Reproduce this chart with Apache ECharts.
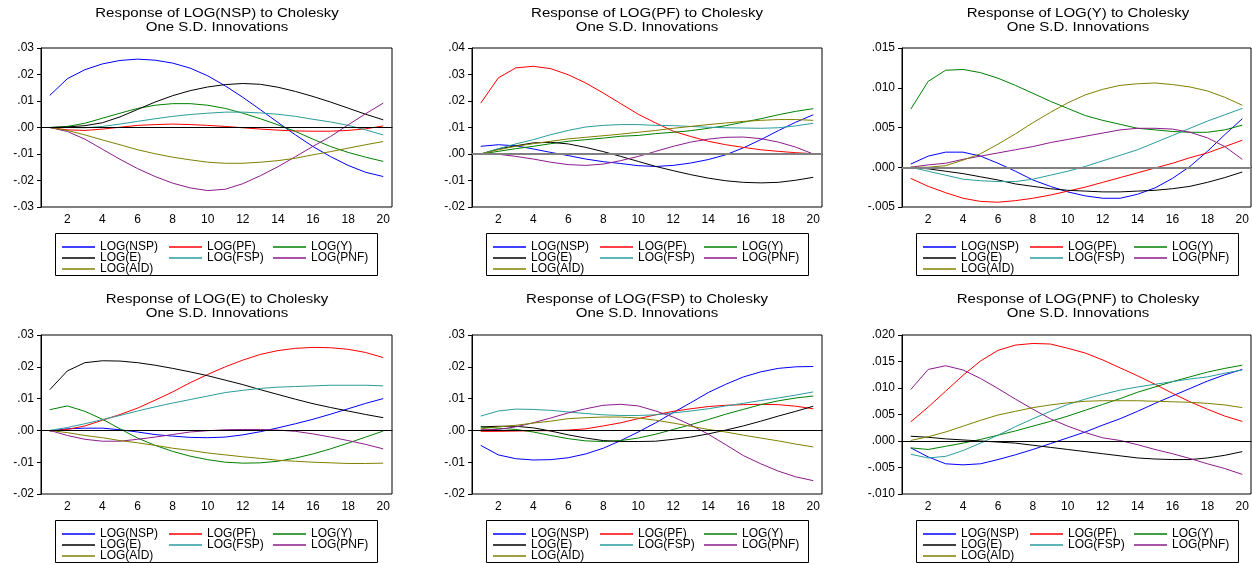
<!DOCTYPE html>
<html>
<head>
<meta charset="utf-8">
<script src="https://cdn.jsdelivr.net/npm/echarts@6/dist/echarts.min.js"></script>
<style>
html, body { margin: 0; padding: 0; background: #fff; }
#main { width: 1252px; height: 563px; }
</style>
</head>
<body>
<div id="main"></div>
<script>
var periods = ['1','2','3','4','5','6','7','8','9','10','11','12','13','14','15','16','17','18','19','20'];
var shockNames = ['LOG(NSP)', 'LOG(PF)', 'LOG(Y)', 'LOG(E)', 'LOG(FSP)', 'LOG(PNF)', 'LOG(AID)'];
var responseNames = ['LOG(NSP)', 'LOG(PF)', 'LOG(Y)', 'LOG(E)', 'LOG(FSP)', 'LOG(PNF)'];
var yMin = [-0.03, -0.02, -0.005, -0.02, -0.02, -0.01];
var yMax = [0.03, 0.04, 0.015, 0.03, 0.03, 0.02];
var yStep = [0.01, 0.01, 0.005, 0.01, 0.01, 0.005];

// response of LOG(NSP)
var nsp_nsp = [0.0121,0.0184,0.0218,0.0240,0.0253,0.0258,0.0254,0.0243,0.0224,0.0195,0.0157,0.0114,0.0067,0.0019,-0.0028,-0.0072,-0.0110,-0.0143,-0.0169,-0.0185];
var nsp_pf  = [0,-0.0009,-0.0011,-0.0006,0.0001,0.0008,0.0011,0.0013,0.0011,0.0008,0.0004,-0.0001,-0.0006,-0.0010,-0.0013,-0.0014,-0.0014,-0.0011,-0.0005,0.0006];
var nsp_y   = [0,0.0004,0.0016,0.0035,0.0054,0.0072,0.0084,0.0090,0.0090,0.0084,0.0072,0.0054,0.0033,0.0010,-0.0015,-0.0044,-0.0072,-0.0094,-0.0112,-0.0128];
var nsp_e   = [0,0.0002,0.0007,0.0018,0.0040,0.0068,0.0096,0.0120,0.0139,0.0153,0.0162,0.0166,0.0163,0.0152,0.0136,0.0117,0.0096,0.0073,0.0050,0.0029];
var nsp_fsp = [0,0,-0.0001,0.0004,0.0013,0.0023,0.0033,0.0042,0.0049,0.0054,0.0058,0.0058,0.0055,0.0050,0.0042,0.0031,0.0021,0.0008,-0.0009,-0.0028];
var nsp_pnf = [0,-0.0015,-0.0044,-0.0082,-0.0120,-0.0155,-0.0185,-0.0210,-0.0228,-0.0238,-0.0233,-0.0212,-0.0182,-0.0148,-0.0110,-0.0071,-0.0034,0.0010,0.0052,0.0092];
var nsp_aid = [0,-0.0011,-0.0028,-0.0047,-0.0065,-0.0084,-0.0099,-0.0112,-0.0122,-0.0131,-0.0135,-0.0135,-0.0131,-0.0125,-0.0116,-0.0103,-0.0091,-0.0078,-0.0065,-0.0053];

// response of LOG(PF)
var pf_nsp = [0.0029,0.0035,0.0031,0.0019,0.0006,-0.0006,-0.0019,-0.0029,-0.0036,-0.0044,-0.0047,-0.0043,-0.0034,-0.0021,-0.0003,0.0023,0.0054,0.0088,0.0120,0.0148];
var pf_pf  = [0.0192,0.0287,0.0325,0.0331,0.0322,0.0299,0.0268,0.0230,0.0190,0.0150,0.0117,0.0086,0.0066,0.0048,0.0035,0.0025,0.0016,0.0010,0.0005,0.0001];
var pf_y   = [0,0.0010,0.0020,0.0029,0.0039,0.0048,0.0054,0.0060,0.0067,0.0070,0.0077,0.0082,0.0088,0.0097,0.0107,0.0120,0.0133,0.0148,0.0161,0.0171];
var pf_e   = [0,0.0019,0.0031,0.0042,0.0044,0.0038,0.0025,0.0009,-0.0009,-0.0028,-0.0047,-0.0063,-0.0078,-0.0091,-0.0101,-0.0107,-0.0109,-0.0107,-0.0099,-0.0088];
var pf_fsp = [0,0.0020,0.0038,0.0054,0.0073,0.0089,0.0102,0.0108,0.0111,0.0111,0.0108,0.0107,0.0104,0.0101,0.0099,0.0098,0.0097,0.0099,0.0106,0.0116];
var pf_pnf = [0,-0.0001,-0.0009,-0.0019,-0.0031,-0.0040,-0.0043,-0.0038,-0.0025,-0.0009,0.0010,0.0029,0.0045,0.0056,0.0063,0.0064,0.0058,0.0045,0.0026,0];
var pf_aid = [0,0.0016,0.0029,0.0039,0.0048,0.0057,0.0063,0.0069,0.0075,0.0082,0.0089,0.0097,0.0104,0.0111,0.0117,0.0123,0.0127,0.0130,0.0130,0.0127];

// response of LOG(Y)
var y_nsp = [0.0004,0.0014,0.0019,0.0019,0.0014,0.0005,-0.0005,-0.0016,-0.0024,-0.0031,-0.0036,-0.0039,-0.0039,-0.0034,-0.0026,-0.0014,0.0001,0.0020,0.0041,0.0061];
var y_pf  = [-0.0014,-0.0024,-0.0032,-0.0039,-0.0043,-0.0044,-0.0042,-0.0039,-0.0035,-0.0030,-0.0025,-0.0019,-0.0013,-0.0007,-0.0001,0.0005,0.0012,0.0018,0.0026,0.0034];
var y_y   = [0.0073,0.0108,0.0122,0.0123,0.0119,0.0112,0.0103,0.0093,0.0083,0.0074,0.0065,0.0059,0.0054,0.0049,0.0047,0.0045,0.0044,0.0044,0.0047,0.0053];
var y_e   = [0,-0.0002,-0.0005,-0.0008,-0.0012,-0.0016,-0.0021,-0.0024,-0.0027,-0.0029,-0.0030,-0.0031,-0.0031,-0.0030,-0.0029,-0.0027,-0.0024,-0.0019,-0.0013,-0.0006];
var y_fsp = [0,-0.0005,-0.0010,-0.0015,-0.0017,-0.0018,-0.0018,-0.0015,-0.0010,-0.0005,0.0001,0.0008,0.0015,0.0022,0.0031,0.0040,0.0049,0.0058,0.0066,0.0074];
var y_pnf = [0,0.0003,0.0005,0.0010,0.0014,0.0018,0.0022,0.0026,0.0031,0.0035,0.0039,0.0043,0.0047,0.0049,0.0049,0.0048,0.0044,0.0037,0.0026,0.0010];
var y_aid = [0,0,0.0002,0.0009,0.0017,0.0029,0.0042,0.0056,0.0069,0.0081,0.0091,0.0098,0.0103,0.0105,0.0106,0.0104,0.0101,0.0096,0.0088,0.0078];

// response of LOG(E)
var e_nsp = [-0.0002,0.0005,0.0007,0.0007,0.0002,-0.0005,-0.0013,-0.0018,-0.0022,-0.0023,-0.0021,-0.0014,-0.0004,0.0008,0.0021,0.0035,0.0051,0.0068,0.0085,0.0100];
var e_pf  = [-0.0002,0.0003,0.0014,0.0032,0.0050,0.0070,0.0095,0.0121,0.0150,0.0176,0.0200,0.0221,0.0239,0.0251,0.0258,0.0261,0.0260,0.0255,0.0245,0.0229];
var e_y   = [0.0065,0.0077,0.0060,0.0035,0.0005,-0.0024,-0.0047,-0.0066,-0.0081,-0.0092,-0.0100,-0.0103,-0.0102,-0.0097,-0.0087,-0.0074,-0.0058,-0.0040,-0.0021,-0.0002];
var e_e   = [0.0128,0.0187,0.0213,0.0219,0.0218,0.0213,0.0205,0.0195,0.0184,0.0172,0.0158,0.0144,0.0128,0.0113,0.0098,0.0084,0.0072,0.0061,0.0050,0.0040];
var e_fsp = [0,0.0009,0.0021,0.0034,0.0047,0.0061,0.0074,0.0086,0.0097,0.0108,0.0119,0.0126,0.0132,0.0136,0.0138,0.0140,0.0142,0.0142,0.0142,0.0140];
var e_pnf = [0,-0.0016,-0.0028,-0.0034,-0.0034,-0.0028,-0.0021,-0.0013,-0.0005,-0.0001,0.0002,0.0003,0.0003,0.0001,-0.0003,-0.0011,-0.0021,-0.0032,-0.0044,-0.0058];
var e_aid = [0,-0.0007,-0.0016,-0.0023,-0.0032,-0.0039,-0.0047,-0.0056,-0.0063,-0.0071,-0.0077,-0.0083,-0.0088,-0.0094,-0.0097,-0.0100,-0.0102,-0.0104,-0.0104,-0.0103];

// response of LOG(FSP)
var fsp_nsp = [-0.0047,-0.0077,-0.0089,-0.0093,-0.0092,-0.0086,-0.0074,-0.0056,-0.0032,-0.0005,0.0024,0.0056,0.0087,0.0119,0.0145,0.0168,0.0184,0.0195,0.0200,0.0201];
var fsp_pf  = [-0.0003,-0.0003,-0.0002,-0.0001,-0.0001,0.0001,0.0005,0.0014,0.0024,0.0037,0.0049,0.0060,0.0068,0.0075,0.0079,0.0081,0.0082,0.0081,0.0076,0.0068];
var fsp_y   = [0.0011,0.0007,0.0003,-0.0005,-0.0016,-0.0026,-0.0033,-0.0035,-0.0032,-0.0024,-0.0012,0.0003,0.0018,0.0034,0.0051,0.0066,0.0081,0.0093,0.0102,0.0108];
var fsp_e   = [0.0011,0.0013,0.0013,0.0008,-0.0002,-0.0014,-0.0024,-0.0032,-0.0035,-0.0035,-0.0034,-0.0028,-0.0021,-0.0011,0.0001,0.0014,0.0029,0.0045,0.0060,0.0076];
var fsp_fsp = [0.0045,0.0061,0.0067,0.0066,0.0063,0.0058,0.0053,0.0049,0.0047,0.0047,0.0049,0.0055,0.0061,0.0068,0.0077,0.0085,0.0094,0.0102,0.0111,0.0121];
var fsp_pnf = [0.0002,0.0003,0.0011,0.0024,0.0039,0.0055,0.0068,0.0079,0.0082,0.0077,0.0061,0.0042,0.0017,-0.0012,-0.0045,-0.0079,-0.0105,-0.0128,-0.0146,-0.0158];
var fsp_aid = [0.0005,0.0011,0.0016,0.0023,0.0029,0.0037,0.0040,0.0042,0.0042,0.0039,0.0032,0.0023,0.0013,0.0003,-0.0005,-0.0015,-0.0024,-0.0033,-0.0043,-0.0052];

// response of LOG(PNF)
var pnf_nsp = [-0.0013,-0.0030,-0.0043,-0.0045,-0.0043,-0.0035,-0.0026,-0.0016,-0.0005,0.0006,0.0017,0.0030,0.0042,0.0056,0.0071,0.0085,0.0099,0.0113,0.0125,0.0135];
var pnf_pf  = [0.0036,0.0064,0.0094,0.0124,0.0151,0.0171,0.0181,0.0184,0.0183,0.0175,0.0166,0.0153,0.0138,0.0123,0.0107,0.0090,0.0074,0.0060,0.0047,0.0037];
var pnf_y   = [-0.0013,-0.0016,-0.0010,-0.0004,0.0003,0.0011,0.0019,0.0028,0.0037,0.0047,0.0058,0.0069,0.0080,0.0092,0.0102,0.0112,0.0121,0.0130,0.0137,0.0143];
var pnf_e   = [0.0009,0.0007,0.0004,0.0002,0,-0.0002,-0.0004,-0.0008,-0.0012,-0.0016,-0.0020,-0.0024,-0.0028,-0.0032,-0.0034,-0.0035,-0.0035,-0.0032,-0.0027,-0.0020];
var pnf_fsp = [-0.0025,-0.0032,-0.0029,-0.0018,-0.0004,0.0011,0.0027,0.0042,0.0056,0.0069,0.0079,0.0088,0.0096,0.0102,0.0107,0.0112,0.0117,0.0121,0.0128,0.0134];
var pnf_pnf = [0.0097,0.0135,0.0142,0.0134,0.0118,0.0099,0.0079,0.0060,0.0042,0.0028,0.0016,0.0006,0.0001,-0.0007,-0.0016,-0.0024,-0.0033,-0.0043,-0.0052,-0.0063];
var pnf_aid = [0.0001,0.0008,0.0017,0.0028,0.0039,0.0049,0.0056,0.0063,0.0068,0.0072,0.0075,0.0076,0.0076,0.0076,0.0075,0.0074,0.0073,0.0071,0.0068,0.0063];

var panelData = [
    [nsp_nsp, nsp_pf, nsp_y, nsp_e, nsp_fsp, nsp_pnf, nsp_aid],
    [pf_nsp, pf_pf, pf_y, pf_e, pf_fsp, pf_pnf, pf_aid],
    [y_nsp, y_pf, y_y, y_e, y_fsp, y_pnf, y_aid],
    [e_nsp, e_pf, e_y, e_e, e_fsp, e_pnf, e_aid],
    [fsp_nsp, fsp_pf, fsp_y, fsp_e, fsp_fsp, fsp_pnf, fsp_aid],
    [pnf_nsp, pnf_pf, pnf_y, pnf_e, pnf_fsp, pnf_pnf, pnf_aid]
];

var FONT = '"Liberation Sans", Arial, sans-serif';
var lineColors = ['#0000ff', '#ff0000', '#008000', '#000000', '#2a9d9d', '#8b1c8b', '#808000'];
// layout of the 2 x 3 panels
var colLeft = [41, 472, 902];
var colWidth = [351, 350, 349];
var colCenter = [217, 647, 1078];
var rowTop = [48, 335];
var boxLeft = [55, 486, 916];
var boxTop = [233, 520];
var titleY = [14, 300];
var itemOffset = [7, 114, 218];

var grids = [], xAxes = [], yAxes = [], series = [], legends = [], graphics = [];

for (var p = 0; p < 6; p++) {
    var c = p % 3, r = Math.floor(p / 3);
    var decimals = yStep[p] < 0.01 ? 3 : 2;
    var grayZero = (p === 1 || p === 2);
    grids.push({
        left: colLeft[c], top: rowTop[r], width: colWidth[c], height: 159,
        show: true, borderColor: '#000', borderWidth: 1, backgroundColor: 'transparent'
    });
    xAxes.push({
        type: 'category', gridIndex: p, data: periods, boundaryGap: true,
        axisLine: { lineStyle: { color: '#000', width: 1 } },
        axisTick: { interval: 0, length: 4, lineStyle: { color: '#000' } },
        axisLabel: {
            interval: function (i) { return i % 2 === 1; },
            color: '#000', fontSize: 12, fontFamily: FONT, margin: 7
        },
        splitLine: { show: false }
    });
    yAxes.push({
        type: 'value', gridIndex: p, min: yMin[p], max: yMax[p], interval: yStep[p],
        axisLine: { show: true, lineStyle: { color: '#000', width: 1 } },
        axisTick: { show: true, length: 4, lineStyle: { color: '#000' } },
        axisLabel: {
            color: '#000', fontSize: 12, fontFamily: FONT, margin: 7,
            formatter: (function (d) {
                return function (v) { return v.toFixed(d).replace(/^(-?)0\./, '$1.'); };
            })(decimals)
        },
        splitLine: { show: false }
    });
    for (var s = 0; s < 7; s++) {
        var ser = {
            type: 'line', name: shockNames[s], xAxisIndex: p, yAxisIndex: p,
            data: panelData[p][s], symbol: 'none', showSymbol: false, smooth: false,
            lineStyle: { color: lineColors[s], width: 1 },
            itemStyle: { color: lineColors[s] },
            silent: true, animation: false, z: 3
        };
        if (s === 0) {
            ser.markLine = {
                silent: true, symbol: 'none', animation: false,
                label: { show: false },
                lineStyle: { color: grayZero ? '#808080' : '#000', width: grayZero ? 2 : 1, type: 'solid' },
                data: [{ yAxis: 0 }]
            };
        }
        series.push(ser);
        legends.push({
            data: [shockNames[s]], selectedMode: false, padding: 0,
            left: boxLeft[c] + itemOffset[s % 3],
            top: boxTop[r] + 8 + Math.floor(s / 3) * 11,
            icon: 'rect', itemWidth: 33, itemHeight: 1.5,
            textStyle: { color: '#000', fontSize: 12, fontFamily: FONT }
        });
    }
    // legend frame
    graphics.push({
        type: 'rect', silent: true,
        shape: { x: boxLeft[c] + 0.5, y: boxTop[r] + 0.5, width: 322, height: 42 },
        style: { fill: 'none', stroke: '#000', lineWidth: 1 }
    });
    // two-line panel title
    var lines = ['Response of ' + responseNames[p] + ' to Cholesky', 'One S.D. Innovations'];
    for (var k = 0; k < 2; k++) {
        graphics.push({
            type: 'text', silent: true, x: colCenter[c], y: titleY[r] + k * 13.6, scaleX: 1.25,
            style: {
                text: lines[k], font: '12px ' + FONT, fill: '#000',
                textAlign: 'center', textVerticalAlign: 'middle', align: 'center', verticalAlign: 'middle'
            }
        });
    }
}

var chart = echarts.init(document.getElementById('main'), null, { renderer: 'canvas' });
chart.setOption({
    animation: false,
    backgroundColor: '#fff',
    grid: grids,
    xAxis: xAxes,
    yAxis: yAxes,
    legend: legends,
    series: series,
    graphic: graphics
});
</script>
</body>
</html>
